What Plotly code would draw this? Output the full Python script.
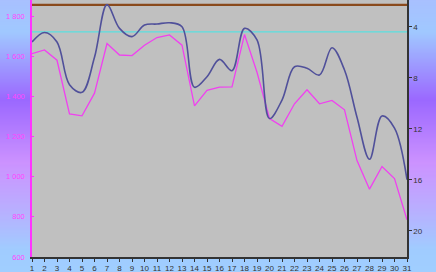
import plotly.graph_objects as go

days = list(range(1, 32))
# pink series (left axis)
pink_values = [1613, 1631, 1580, 1313, 1303, 1416, 1663, 1606, 1603, 1655,
               1693, 1706, 1655, 1353, 1430, 1446, 1447, 1708, 1520, 1290,
               1251, 1363, 1433, 1363, 1380, 1333, 1080, 938, 1051, 991, 785]
# blue series (right axis, reversed)
blue_values = [5.2, 4.45, 5.2, 8.55, 9.15, 6.4, 2.27, 4.13, 4.78, 3.87,
               3.79, 3.69, 4.0, 8.75, 7.92, 6.56, 7.45, 4.13, 5.04, 11.2,
               9.75, 7.14, 7.26, 7.79, 5.65, 7.4, 11.1, 14.4, 11.0, 11.95, 16.0]
brown_level = 1856
cyan_level = 1721
left_ticks = [600, 800, 1000, 1200, 1400, 1600, 1800]
right_ticks = [4, 8, 12, 16, 20]

W, H = 436, 272
ML, MR, MT, MB = 32, 29, 0, 15
PH = H - MT - MB

fig = go.Figure()
fig.add_trace(go.Scatter(x=[days[0], days[-1]], y=[brown_level, brown_level], mode="lines",
                         line=dict(color="#8a4a1c", width=2.2), hoverinfo="skip"))
fig.add_trace(go.Scatter(x=[days[0], days[-1]], y=[cyan_level, cyan_level], mode="lines",
                         line=dict(color="#40e8e8", width=1), hoverinfo="skip"))
fig.add_trace(go.Scatter(x=days, y=pink_values, mode="lines",
                         line=dict(color="#f040f0", width=1.3)))
fig.add_trace(go.Scatter(x=days, y=blue_values, mode="lines", yaxis="y2",
                         line=dict(color="#50509a", width=1.6, shape="spline", smoothing=1)))

# vertical gradient background
stops = [(0.0, (168, 192, 255)), (0.12, (160, 200, 255)), (0.37, (155, 104, 255)),
         (0.6, (204, 146, 255)), (0.78, (184, 176, 255)), (0.92, (160, 204, 255)),
         (1.0, (160, 206, 255))]

def col_at(f):
    for (f0, c0), (f1, c1) in zip(stops[:-1], stops[1:]):
        if f0 <= f <= f1:
            t = (f - f0) / (f1 - f0)
            return "rgb(%d,%d,%d)" % tuple(round(a + (b - a) * t) for a, b in zip(c0, c1))
    return "rgb(%d,%d,%d)" % stops[-1][1]

shapes = []
step = 2
for p in range(0, H, step):
    y0 = (PH + MT - (p + step + 0.5)) / PH
    y1 = (PH + MT - p + 0.5) / PH
    shapes.append(dict(type="rect", xref="paper", yref="paper", x0=-0.2, x1=1.2, y0=y0, y1=y1,
                       fillcolor=col_at((p + 1) / H), line=dict(width=0), layer="below"))
shapes.append(dict(type="rect", xref="paper", yref="paper", x0=0, x1=1, y0=0, y1=1,
                   fillcolor="#c0c0c0", line=dict(width=0), layer="below"))

fig.update_layout(
    width=W, height=H,
    margin=dict(l=ML, r=MR, t=MT, b=MB, pad=0),
    paper_bgcolor="#b0a8ff", plot_bgcolor="#c0c0c0",
    showlegend=False, separators=". ",
    font=dict(family="Liberation Sans, Arial, sans-serif", size=8, color="#333333"),
    shapes=shapes,
    xaxis=dict(range=[1, 31], tickvals=days, showgrid=False, zeroline=False,
               showline=True, linecolor="#333333", linewidth=1.5,
               ticks="outside", ticklen=3, tickcolor="#333333",
               tickfont=dict(size=8, color="#333333")),
    yaxis=dict(range=[600, 1880], tickvals=left_ticks, showgrid=False, zeroline=False,
               showline=True, linecolor="#ff33ff", linewidth=1.5,
               ticks="inside", ticklen=2, tickcolor="#ff33ff",
               separatethousands=True, tickformat=",d",
               tickfont=dict(size=7.5, color="#ff44ff"), ticklabelstandoff=4),
    yaxis2=dict(range=[22.06, 1.906], overlaying="y", side="right", tickvals=right_ticks,
                showgrid=False, zeroline=False, showline=True, linecolor="#333333",
                linewidth=1.5, ticks="outside", ticklen=3, tickcolor="#333333",
                tickfont=dict(size=8, color="#333333")),
)

fig.write_html("out.html")
